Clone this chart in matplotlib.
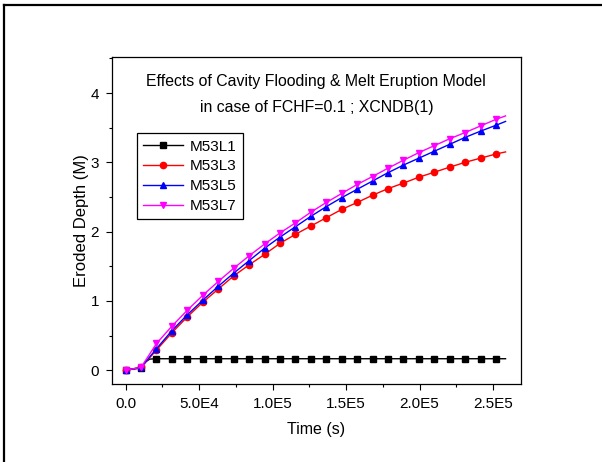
import matplotlib.pyplot as plt
from matplotlib.lines import Line2D
from matplotlib.ticker import MultipleLocator, FixedFormatter, FixedLocator

plt.rcParams['font.family'] = ['Liberation Sans', 'DejaVu Sans']

# --- Données ---
# temps des points marqués (s) + dernier point sans marqueur
t_pts = [0, 10500, 21000, 31500, 42000, 52500, 63000, 73500, 84000, 94500,
         105000, 115500, 126000, 136500, 147000, 157500, 168000, 178500,
         189000, 199500, 210000, 220500, 231000, 241500, 252000, 258500]

# M53L1 : montée rapide puis plateau (points supplémentaires au démarrage)
t_l1 = [0, 10500, 13500, 16500] + t_pts[2:]
d_l1 = [0.0, 0.03, 0.12, 0.16] + [0.165] * (len(t_pts) - 2)

d_l3 = [0.0, 0.04, 0.29, 0.54, 0.77, 0.98, 1.17, 1.36, 1.52, 1.67, 1.83, 1.96,
        2.08, 2.20, 2.32, 2.42, 2.525, 2.62, 2.70, 2.785, 2.857, 2.93, 3.00,
        3.06, 3.12, 3.15]
d_l5 = [0.0, 0.04, 0.31, 0.57, 0.80, 1.01, 1.21, 1.40, 1.58, 1.76, 1.92, 2.07,
        2.22, 2.36, 2.49, 2.61, 2.73, 2.85, 2.96, 3.06, 3.16, 3.26, 3.36, 3.45,
        3.535, 3.59]
d_l7 = [0.0, 0.04, 0.385, 0.635, 0.866, 1.08, 1.28, 1.47, 1.65, 1.82, 1.98,
        2.125, 2.28, 2.42, 2.55, 2.68, 2.795, 2.915, 3.03, 3.14, 3.24, 3.34,
        3.43, 3.525, 3.62, 3.67]

x_ticks = [0, 50000, 100000, 150000, 200000, 250000]
x_labels = ['0.0', '5.0E4', '1.0E5', '1.5E5', '2.0E5', '2.5E5']
y_ticks = [0, 1, 2, 3, 4]

# --- Figure ---
fig = plt.figure(figsize=(6.02, 4.62), dpi=100)
ax = fig.add_axes([0.1855, 0.1688, 0.6799, 0.7078])

# cadre extérieur (haut et gauche seulement visibles)
fig.add_artist(Line2D([3.5 / 602, 1.0], [1 - 5 / 462, 1 - 5 / 462],
                      transform=fig.transFigure, color='k', lw=1.6))
fig.add_artist(Line2D([3.5 / 602, 3.5 / 602], [0.0, 1 - 5 / 462],
                      transform=fig.transFigure, color='k', lw=1.6))

n = len(t_pts) - 1
ax.plot(t_l1, d_l1, '-', color='black', lw=1, marker='s', markersize=4,
        markevery=[0, 1] + list(range(4, 4 + n - 2)), label='M53L1')
ax.plot(t_pts, d_l3, '-', color='red', lw=1, marker='o', markersize=4.5,
        markevery=list(range(n)), label='M53L3')
ax.plot(t_pts, d_l5, '-', color='blue', lw=1, marker='^', markersize=4.5,
        markevery=list(range(n)), label='M53L5')
ax.plot(t_pts, d_l7, '-', color='magenta', lw=1, marker='v', markersize=4.5,
        markevery=list(range(n)), label='M53L7')

ax.set_xlim(-9500, 269000)
ax.set_ylim(-0.2, 4.52)
ax.xaxis.set_major_locator(FixedLocator(x_ticks))
ax.xaxis.set_major_formatter(FixedFormatter(x_labels))
ax.xaxis.set_minor_locator(MultipleLocator(25000))
ax.set_yticks(y_ticks)
ax.yaxis.set_minor_locator(MultipleLocator(0.5))

ax.tick_params(which='major', direction='out', length=4, width=0.8,
               labelsize=11, top=False, right=False)
ax.tick_params(axis='x', which='major', pad=5.5)
ax.tick_params(axis='y', which='major', pad=5)
ax.tick_params(which='minor', direction='out', length=2.5, width=0.8,
               top=False, right=False)
for s in ax.spines.values():
    s.set_linewidth(0.9)

ax.set_xlabel('Time (s)', fontsize=11.5, labelpad=8)
ax.set_ylabel('Eroded Depth (M)', fontsize=12, labelpad=1)

ax.text(0.5, 0.924, 'Effects of Cavity Flooding & Melt Eruption Model',
        transform=ax.transAxes, ha='center', va='center', fontsize=11.4)
ax.text(0.5, 0.845, 'in case of FCHF=0.1 ; XCNDB(1)',
        transform=ax.transAxes, ha='center', va='center', fontsize=11.4)

leg = ax.legend(loc='upper left', bbox_to_anchor=(0.061, 0.767),
                borderaxespad=0, fontsize=11, handlelength=2.6,
                fancybox=False, framealpha=1, edgecolor='black',
                labelspacing=0.38, borderpad=0.42, handletextpad=0.45)
leg.get_frame().set_linewidth(0.9)

fig.savefig('out.png', dpi=100)
